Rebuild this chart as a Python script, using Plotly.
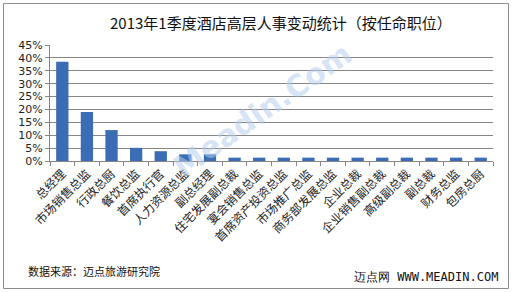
import plotly.graph_objects as go

categories = ["总经理", "市场销售总监", "行政总厨", "餐饮总监", "首席执行官", "人力资源总监",
              "副总经理", "住宅发展副总裁", "宴会销售总监", "首席资产投资总监", "市场推广总监",
              "商务部发展总监", "企业总裁", "企业销售副总裁", "高级副总裁", "副总裁", "财务总监", "包房总厨"]
values = [38.5, 19.0, 12.0, 5.1, 3.8, 2.6, 2.6, 1.3, 1.3, 1.3, 1.3, 1.3, 1.3, 1.3, 1.3, 1.3, 1.3, 1.3]
y_ticks = [0, 5, 10, 15, 20, 25, 30, 35, 40, 45]
y_ticktext = [f"{v}%" for v in y_ticks]

W, H = 513, 292
L, R, T, B = 50, 20, 45, 131
pw, ph = W - L - R, H - T - B

def px(x):
    return (x - L) / pw

def py(y):
    return (H - B - y) / ph

fig = go.Figure(go.Bar(x=categories, y=values, marker_color="#3a6db3",
                       marker_line_width=0, width=0.5))

fig.update_layout(
    width=W, height=H, margin=dict(l=L, r=R, t=T, b=B),
    paper_bgcolor="white", plot_bgcolor="white", showlegend=False,
    font=dict(family="Noto Sans CJK SC", color="#222"),
)
fig.update_yaxes(range=[0, 45], tickvals=y_ticks, ticktext=y_ticktext,
                 showgrid=True, gridcolor="#858585", gridwidth=1,
                 showline=True, linecolor="#858585", ticks="outside", ticklen=4,
                 tickcolor="#858585", tickfont=dict(size=11, family="DejaVu Sans", color="#222"),
                 zeroline=False)
fig.update_xaxes(tickangle=-45, showline=True, linecolor="#858585",
                 ticks="outside", ticklen=4, tickcolor="#858585", tickson="boundaries",
                 tickfont=dict(size=12, family="Noto Sans CJK SC", color="#222"))

fig.add_shape(type="rect", xref="paper", yref="paper",
              x0=px(3.5), x1=px(508.5), y0=py(288.5), y1=py(3.5),
              line=dict(color="#8a8a8a", width=1), layer="below")

fig.add_annotation(text="2013年1季度酒店高层人事变动统计（按任命职位）", xref="paper", yref="paper",
                   x=px(281), y=py(23), showarrow=False, xanchor="center", yanchor="middle",
                   font=dict(size=15, color="#111", family="Noto Sans CJK SC"))
fig.add_annotation(text="数据来源：迈点旅游研究院", xref="paper", yref="paper",
                   x=px(26), y=py(271), showarrow=False, xanchor="left", yanchor="middle",
                   font=dict(size=11, color="#111", family="Noto Sans CJK SC"))
fig.add_annotation(text="迈点网 WWW.MEADIN.COM", xref="paper", yref="paper",
                   x=px(500), y=py(277), showarrow=False, xanchor="right", yanchor="middle",
                   font=dict(size=12, color="#111", family="DejaVu Sans Mono"))
fig.add_annotation(text="<b>Meadin.Com</b>", xref="paper", yref="paper",
                   x=px(262), y=py(110), showarrow=False, textangle=-35,
                   font=dict(size=30, color="rgba(180,205,238,0.55)", family="DejaVu Sans"))

fig.write_html("out.html")
